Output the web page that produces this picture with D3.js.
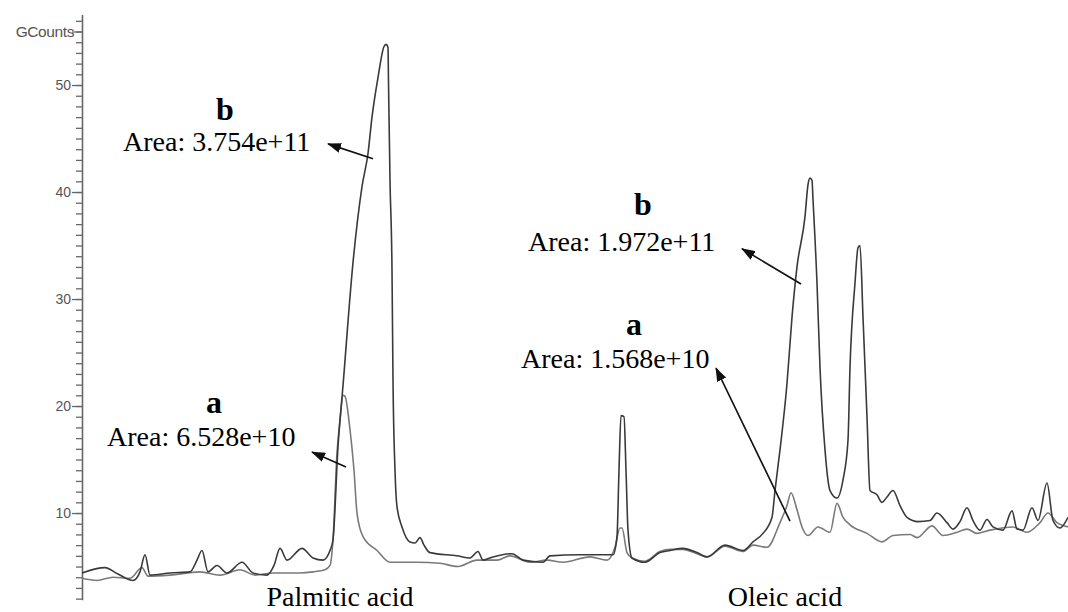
<!DOCTYPE html>
<html>
<head>
<meta charset="utf-8">
<script src="https://cdn.jsdelivr.net/npm/d3@7"></script>
<style>
  html, body { margin: 0; padding: 0; background: #fff; }
  svg { display: block; }
</style>
</head>
<body>
<svg id="chart" width="1068" height="612"></svg>
<script>
// ---- data (scan index, GCounts) ----
const seriesB = [
  [0,4.4],[23,4.9],[36,4.3],[51,3.7],[58,4.5],[63,6.1],[68,4.2],[88,4.4],[108,4.5],[115,5.6],
  [120,6.5],[126,4.5],[135,5.1],[145,4.4],[160,5.4],[171,4.4],[185,4.2],[192,5.1],[198,6.7],
  [205,5.6],[220,6.7],[231,5.8],[241,5.6],[248,6.5],[251,7.5],[256,16.2],[261,21.9],[271,33.4],
  [280,40.5],[286,43.6],[290,47.0],[296,50.7],[302,53.6],[304,53.8],[306,53.5],[306.5,50.3],
  [308,41.1],[310,32.7],[311,22.4],[313,14.0],[315,10.6],[320,8.7],[328,7.3],[333,7.2],[338,7.7],
  [342,7.0],[348,6.3],[375,6.0],[388,5.8],[396,6.4],[401,5.6],[411,5.9],[430,6.2],[441,5.6],
  [461,5.4],[468,6.0],[498,6.1],[531,6.1],[535,7.8],[537,14.0],[539,19.1],[542,19.0],[544,14.0],
  [546,8.4],[550,5.8],[563,5.4],[578,6.3],[588,6.5],[601,6.7],[615,6.3],[625,5.9],[643,7.0],
  [661,6.5],[671,7.3],[681,8.1],[690,9.6],[693,12.1],[698,15.9],[705,22.1],[710,28.3],[715,33.0],
  [723,37.7],[726,40.7],[728,41.3],[730,41.1],[731,39.3],[735,31.5],[738,23.6],[743,15.9],
  [748,12.1],[755,11.4],[761,13.1],[766,16.8],[768,23.6],[773,31.5],[776,34.8],[778,35.0],
  [781,28.3],[785,19.0],[788,12.1],[795,11.7],[800,11.0],[805,11.5],[811,12.1],[818,10.7],
  [825,9.6],[836,9.2],[848,9.3],[855,10.0],[865,9.1],[871,8.5],[878,9.2],[885,10.5],[891,9.3],
  [898,8.4],[905,9.4],[911,8.7],[921,8.4],[930,10.2],[935,8.5],[941,8.4],[950,10.5],[956,9.3],
  [965,12.8],[971,9.3],[978,8.6],[986,9.6]
];
const seriesA = [
  [0,3.9],[15,3.7],[31,4.0],[48,3.9],[60,4.9],[66,4.1],[88,4.2],[118,4.5],[138,4.2],[158,4.7],
  [173,4.2],[191,4.4],[218,4.4],[231,4.5],[243,4.7],[248,5.1],[251,7.5],[255,15.6],[258,18.7],
  [261,21.0],[263,20.9],[268,17.8],[272,14.0],[275,10.0],[281,7.8],[295,6.5],[308,5.4],[335,5.4],
  [358,5.3],[376,5.0],[395,5.6],[415,5.6],[428,6.0],[448,5.4],[465,5.6],[481,5.4],[508,5.9],
  [525,5.6],[533,6.8],[538,8.6],[540,8.6],[545,6.3],[550,5.8],[563,5.5],[578,6.4],[588,6.6],
  [601,6.6],[615,6.2],[625,5.9],[643,6.9],[661,6.4],[671,7.0],[685,6.8],[698,9.1],[705,10.7],
  [709,11.9],[715,10.3],[720,8.7],[726,7.9],[736,8.7],[748,8.2],[755,10.9],[761,9.6],[768,8.9],
  [785,8.1],[800,7.3],[811,7.9],[828,8.0],[835,7.7],[850,8.8],[861,7.9],[875,8.2],[885,8.5],
  [895,8.1],[908,8.4],[931,8.7],[945,8.2],[958,9.1],[966,10.0],[975,9.1],[986,8.7]
];
const majorTicks = [10, 20, 30, 40, 50, 55];
const majorLabels = ["10", "20", "30", "40", "50", "GCounts"];
const peakNames = ["Palmitic acid", "Oleic acid"];
const peakCenters = [258, 703];
// annotations: label, area text, text anchor (scan, GCounts), arrow from (scan, GCounts) to (scan, GCounts)
const annLabels = ["b", "a", "b", "a"];
const annAreas = ["Area: 3.754e+11", "Area: 6.528e+10", "Area: 1.972e+11", "Area: 1.568e+10"];
const annLabelPos = [[143, 46.7], [132, 19.35], [561, 37.85], [552, 26.6]];
const annAreaPos = [[41, 43.8], [25, 16.3], [446, 34.5], [439, 23.55]];
const annArrowFrom = [[291, 43.1], [264, 14.3], [719, 31.4], [708, 9.25]];
const annArrowTo = [[246, 44.5], [230, 15.7], [660, 34.7], [634, 23.55]];

// ---- scales ----
const svg = d3.select("#chart");
const x = d3.scaleLinear().domain([0, 986]).range([82, 1068]);
const y = d3.scaleLinear().domain([1.9, 56.6]).range([599.7, 14.4]);

// defs: arrowhead
svg.append("defs").append("marker")
  .attr("id", "arr").attr("viewBox", "0 0 14 10")
  .attr("refX", 13).attr("refY", 5)
  .attr("markerWidth", 14).attr("markerHeight", 10)
  .attr("markerUnits", "userSpaceOnUse")
  .attr("orient", "auto")
  .append("path").attr("d", "M0,0 L14,5 L0,10 Z").attr("fill", "#111");

// ---- axis ----
const minor = d3.range(2, 57);
const gMinor = svg.append("g").attr("transform", "translate(82,0)")
  .call(d3.axisLeft(y).tickValues(minor).tickSize(6).tickSizeOuter(0).tickFormat(""));
gMinor.selectAll("line").attr("stroke", "#666").attr("stroke-width", 1.3);
gMinor.select(".domain").attr("stroke", "#666").attr("stroke-width", 1.6);

const gMajor = svg.append("g").attr("transform", "translate(82,0)")
  .call(d3.axisLeft(y).tickValues(majorTicks).tickSize(10).tickSizeOuter(0)
    .tickFormat((d, i) => majorLabels[i]));
gMajor.select(".domain").remove();
gMajor.selectAll("line").attr("stroke", "#666").attr("stroke-width", 1.3);
gMajor.selectAll("text")
  .attr("font-family", "Liberation Sans, Arial, sans-serif")
  .attr("font-size", 14).attr("fill", "#555").attr("x", -11);
gMajor.selectAll("text").filter((d) => d === 55)
  .attr("font-size", 15.5).attr("letter-spacing", "-0.4px").attr("x", -8);

// ---- lines ----
const line = d3.line().x(d => x(d[0])).y(d => y(d[1])).curve(d3.curveMonotoneX);
svg.append("path").datum(seriesA).attr("d", line)
  .attr("fill", "none").attr("stroke", "#7a7a7a").attr("stroke-width", 1.6)
  .attr("stroke-linejoin", "round");
svg.append("path").datum(seriesB).attr("d", line)
  .attr("fill", "none").attr("stroke", "#3a3a3a").attr("stroke-width", 1.6)
  .attr("stroke-linejoin", "round");

// ---- annotations ----
const serif = "Liberation Serif, Times New Roman, serif";
annLabels.forEach((lab, i) => {
  svg.append("text").attr("x", x(annLabelPos[i][0])).attr("y", y(annLabelPos[i][1]))
    .attr("text-anchor", "middle").attr("font-family", serif)
    .attr("font-weight", "bold").attr("font-size", 32).attr("fill", "#000").text(lab);
  svg.append("text").attr("x", x(annAreaPos[i][0])).attr("y", y(annAreaPos[i][1]))
    .attr("font-family", serif).attr("font-size", 28).attr("fill", "#000").text(annAreas[i]);
  svg.append("line")
    .attr("x1", x(annArrowFrom[i][0])).attr("y1", y(annArrowFrom[i][1]))
    .attr("x2", x(annArrowTo[i][0])).attr("y2", y(annArrowTo[i][1]))
    .attr("stroke", "#111").attr("stroke-width", 1.6).attr("marker-end", "url(#arr)");
});

peakNames.forEach((n, i) => {
  svg.append("text").attr("x", x(peakCenters[i])).attr("y", 606)
    .attr("text-anchor", "middle").attr("font-family", serif)
    .attr("font-size", 28).attr("fill", "#000").text(n);
});
</script>
</body>
</html>
